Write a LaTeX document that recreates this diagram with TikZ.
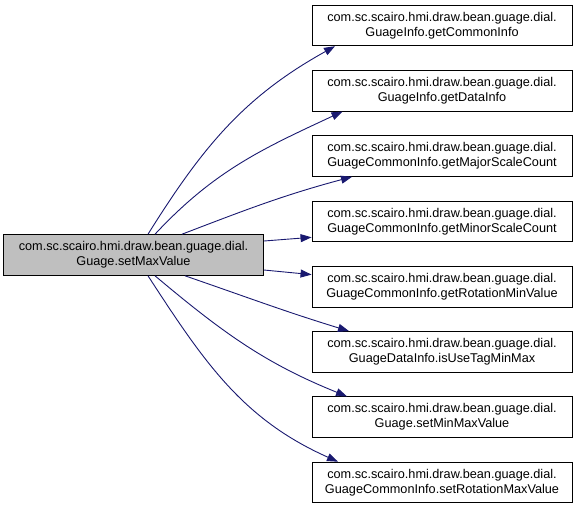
\documentclass[tikz,border=0pt]{standalone}
\usepackage{fontspec}
\setmainfont{Liberation Sans}
\usetikzlibrary{positioning, arrows.meta}
\definecolor{edgeblue}{RGB}{25,25,112}
\definecolor{nodegrey}{RGB}{191,191,191}

\begin{document}
\begin{tikzpicture}
    [
        x=1pt, y=1pt, node distance=65.3pt, on grid,
        white_node/.style={rectangle, draw=black, fill=white, line width=0.9pt, minimum width=260pt, minimum height=40.7pt, inner sep=0pt, align=center, font=\fontsize{12.7}{15}\selectfont},
        grey_node/.style={white_node, fill=nodegrey},
        call_edge/.style={-{Triangle[length=11pt, width=8pt]}, line width=0.9pt, color=edgeblue},
    ]
        \useasboundingbox (0,0) rectangle (577,-509);
        \node[grey_node] (setmax) at (133.5,-255) {com.sc.scairo.hmi.draw.bean.guage.dial.\\Guage.setMaxValue} ;
        \node[white_node] (common) at (442,-25.4) {com.sc.scairo.hmi.draw.bean.guage.dial.\\GuageInfo.getCommonInfo} ;
        \node[white_node] (data) [below = of common] {com.sc.scairo.hmi.draw.bean.guage.dial.\\GuageInfo.getDataInfo} ;
        \node[white_node] (major) [below = of data] {com.sc.scairo.hmi.draw.bean.guage.dial.\\GuageCommonInfo.getMajorScaleCount} ;
        \node[white_node] (minor) [below = of major] {com.sc.scairo.hmi.draw.bean.guage.dial.\\GuageCommonInfo.getMinorScaleCount} ;
        \node[white_node] (rotmin) [below = of minor] {com.sc.scairo.hmi.draw.bean.guage.dial.\\GuageCommonInfo.getRotationMinValue} ;
        \node[white_node] (usetag) [below = of rotmin] {com.sc.scairo.hmi.draw.bean.guage.dial.\\GuageDataInfo.isUseTagMinMax} ;
        \node[white_node] (minmax) [below = of usetag] {com.sc.scairo.hmi.draw.bean.guage.dial.\\Guage.setMinMaxValue} ;
        \node[white_node] (rotmax) [below = of minmax] {com.sc.scairo.hmi.draw.bean.guage.dial.\\GuageCommonInfo.setRotationMaxValue} ;
        \draw[call_edge] ([xshift=14.5pt]setmax.north) to[out=58, in=209] ([xshift=-107pt]common.south) ;
        \draw[call_edge] ([xshift=21.5pt]setmax.north) to[out=47, in=205] ([xshift=-99.5pt]data.south) ;
        \draw[call_edge] ([xshift=48.5pt]setmax.north) to[out=21, in=195] ([xshift=-90pt]major.south) ;
        \draw[call_edge] ([yshift=14pt]setmax.east) -- ([yshift=-16pt]minor.west) ;
        \draw[call_edge] ([yshift=-15pt]setmax.east) -- ([yshift=12pt]rotmin.west) ;
        \draw[call_edge] ([xshift=51.5pt]setmax.south) to[out=-19, in=163] ([xshift=-93pt]usetag.north) ;
        \draw[call_edge] ([xshift=21.5pt]setmax.south) to[out=-40, in=158] ([xshift=-95pt]minmax.north) ;
        \draw[call_edge] ([xshift=14.5pt]setmax.south) to[out=-57, in=156] ([xshift=-104pt]rotmax.north) ;
    \end{tikzpicture}
\end{document}
